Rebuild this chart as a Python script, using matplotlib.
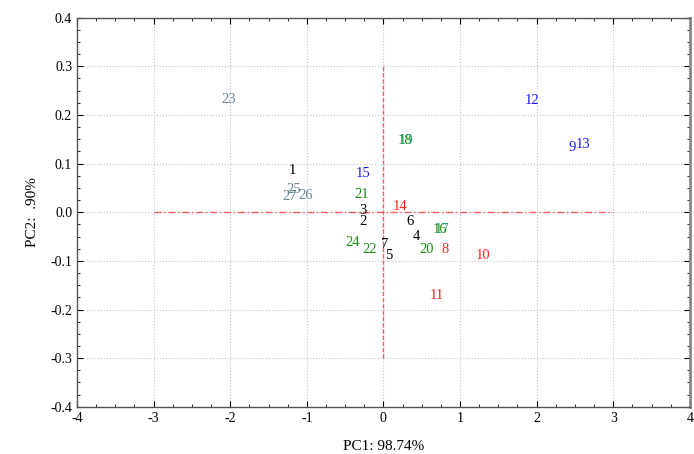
import matplotlib
matplotlib.use('Agg')
import matplotlib.pyplot as plt
from matplotlib.ticker import MultipleLocator, FormatStrFormatter

plt.rcParams['font.family'] = ['Liberation Serif', 'DejaVu Serif']
plt.rcParams['axes.unicode_minus'] = False

# sample labels, PCA scores, label colours
labels = ['1', '2', '3', '4', '5', '6', '7', '8', '9', '10',
          '11', '12', '13', '14', '15', '16', '17', '18', '19', '20',
          '21', '22', '23', '24', '25', '26', '27']
pc1 = [-1.19, -0.27, -0.27, 0.43, 0.07, 0.35, 0.02, 0.80, 2.47, 1.30,
       0.70, 1.94, 2.60, 0.22, -0.27, 0.74, 0.76, 0.28, 0.30, 0.57,
       -0.29, -0.18, -2.02, -0.40, -1.17, -1.02, -1.23]
pc2 = [0.086, -0.020, 0.003, -0.050, -0.089, -0.019, -0.067, -0.077, 0.133, -0.089,
       -0.172, 0.230, 0.140, 0.012, 0.080, -0.036, -0.036, 0.148, 0.148, -0.077,
       0.037, -0.077, 0.232, -0.063, 0.047, 0.034, 0.032]
colors = ['k', 'k', 'k', 'k', 'k', 'k', 'k', '#ff2020', '#1a1aff', '#ff2020',
          '#ff2020', '#1a1aff', '#1a1aff', '#ff2020', '#1a1aff', '#3a8c10', '#15a080', '#3a8c10', '#15a080', '#1a8c1a',
          '#1a8c1a', '#1a8c1a', '#6a8490', '#1a8c1a', '#6a8490', '#6a8490', '#6a8490']

fig = plt.figure(figsize=(6.94, 4.54), dpi=100)
ax = fig.add_axes([0.111, 0.104, 0.883, 0.857])

ax.set_xlim(-4, 4)
ax.set_ylim(-0.4, 0.4)

for lab, x, y, c in zip(labels, pc1, pc2, colors):
    ax.text(x, y, lab, color=c, fontsize=10.5, ha='center', va='center')

# reference lines through origin
ax.plot([-3, 3], [0, 0], color='red', alpha=0.6, lw=1, linestyle=(0, (5, 2, 1, 2)))
ax.plot([0, 0], [-0.3, 0.3], color='red', alpha=0.6, lw=1, linestyle=(0, (3, 1.5)))

ax.xaxis.set_major_locator(MultipleLocator(1))
ax.xaxis.set_minor_locator(MultipleLocator(0.25))
ax.yaxis.set_major_locator(MultipleLocator(0.1))
ax.yaxis.set_minor_locator(MultipleLocator(0.025))
ax.yaxis.set_major_formatter(FormatStrFormatter('%.1f'))
ax.xaxis.set_major_formatter(FormatStrFormatter('%d'))
ax.grid(True, which='major', color='#c4c4c4', linestyle=':', linewidth=0.8)
ax.tick_params(which='both', direction='in', top=True, right=True, labelsize=10)
ax.tick_params(which='major', length=4)
ax.tick_params(which='minor', length=2.5)
for s in ax.spines.values():
    s.set_color('#555555')
    s.set_linewidth(1)
ax.spines['right'].set_linewidth(2)
ax.spines['right'].set_color('#888888')

ax.set_xlabel('PC1: 98.74%', fontsize=11, labelpad=11)
ax.set_ylabel('PC2:  .90%', fontsize=11, labelpad=8)

fig.savefig('out.png', dpi=100)
